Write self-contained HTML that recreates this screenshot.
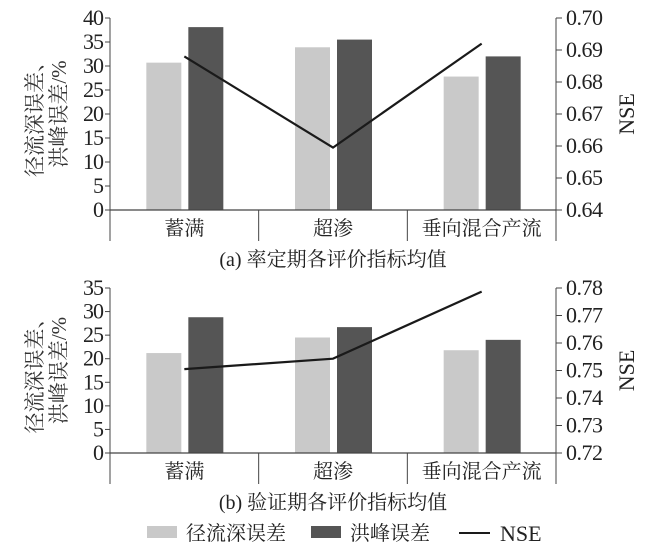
<!DOCTYPE html>
<html><head><meta charset="utf-8"><style>
body{margin:0;background:#fff}
svg{display:block;font-family:"Liberation Serif","Noto Serif CJK SC",serif;fill:#222}
</style></head><body>
<svg id="svg" width="670" height="559" viewBox="0 0 670 559"></svg>
<script>
const categories=["蓄满","超渗","垂向混合产流"];
const runoffA=[30.7,33.9,27.8];
const peakA=[38.1,35.5,32.0];
const nseA=[0.688,0.6595,0.692];
const leftTicksA=[0,5,10,15,20,25,30,35,40];
const rightTicksA=["0.64","0.65","0.66","0.67","0.68","0.69","0.70"];
const runoffB=[21.2,24.5,21.8];
const peakB=[28.8,26.7,24.0];
const nseB=[0.7505,0.7543,0.7787];
const leftTicksB=[0,5,10,15,20,25,30,35];
const rightTicksB=["0.72","0.73","0.74","0.75","0.76","0.77","0.78"];

const NS="http://www.w3.org/2000/svg";
const svg=document.getElementById('svg');
function mk(tag,attrs,parent){const e=document.createElementNS(NS,tag);for(const k in attrs)e.setAttribute(k,attrs[k]);(parent||svg).appendChild(e);return e;}

function panel(id,top,bottom,lmax,ltks,rtks,rmin,rmax,runoff,peak,nse,title){
  const g=mk('g',{});
  
  
  const L=110,R=556;
  const yL=v=>bottom-(v/lmax)*(bottom-top);
  const yR=v=>bottom-((v-rmin)/(rmax-rmin))*(bottom-top);
  const gw=(R-L)/categories.length;
  const cx=i=>L+gw*(i+0.5);
  const la=mk('line',{x1:L,y1:top,x2:L,y2:bottom,stroke:'#444','stroke-width':1},g);
  
  const ra=mk('line',{x1:R,y1:top,x2:R,y2:bottom,stroke:'#444','stroke-width':1},g);
  
  ltks.forEach(t=>{
    mk('line',{x1:L-5,y1:yL(t),x2:L,y2:yL(t),stroke:'#444'},g);
    const tx=mk('text',{x:L-7,y:yL(t)+7,'text-anchor':'end','font-size':22,'letter-spacing':-1},g);
    tx.textContent=t;
    
  });
  rtks.forEach(t=>{
    const v=parseFloat(t);
    mk('line',{x1:R,y1:yR(v),x2:R+6,y2:yR(v),stroke:'#444'},g);
    const tx=mk('text',{x:R+10,y:yR(v)+7,'font-size':22,'letter-spacing':-0.5},g);
    tx.textContent=t;
    
  });
  categories.forEach((c,i)=>{
    const b1=mk('rect',{x:cx(i)-38,y:yL(runoff[i]),width:35,height:bottom-yL(runoff[i]),fill:'#c9c9c9'},g);
    
    const b2=mk('rect',{x:cx(i)+4,y:yL(peak[i]),width:35,height:bottom-yL(peak[i]),fill:'#555'},g);
    
  });
  const xa=mk('line',{x1:L,y1:bottom,x2:R,y2:bottom,stroke:'#444','stroke-width':1.2},g);
  
  for(let i=0;i<=categories.length;i++){
    mk('line',{x1:L+gw*i,y1:bottom,x2:L+gw*i,y2:bottom+31,stroke:'#444'},g);
  }
  categories.forEach((c,i)=>{
    const tx=mk('text',{x:cx(i),y:bottom+25,'text-anchor':'middle','font-size':20},g);
    tx.textContent=c;
    
  });
  const pts=nse.map((v,i)=>cx(i)+','+yR(v)).join(' ');
  const pl=mk('polyline',{points:pts,fill:'none',stroke:'#1a1a1a','stroke-width':2.2},g);
  
  const yt=mk('text',{transform:`translate(42,${(top+bottom)/2}) rotate(-90)`,'text-anchor':'middle','font-size':21,fill:'#333'},g);
  yt.textContent='径流深误差、';
  
  const yt2=mk('text',{transform:`translate(66,${(top+bottom)/2}) rotate(-90)`,'text-anchor':'middle','font-size':21,fill:'#333'},g);
  yt2.textContent='洪峰误差/%';
  
  const rt=mk('text',{transform:`translate(634,${(top+bottom)/2}) rotate(-90)`,'text-anchor':'middle','font-size':22},g);
  rt.textContent='NSE';
  
  const ti=mk('text',{x:333,y:bottom+56,'text-anchor':'middle','font-size':20},g);
  ti.textContent=title;
  
}
panel('panel-a',18,210,40,leftTicksA,rightTicksA,0.64,0.70,runoffA,peakA,nseA,'(a) 率定期各评价指标均值');
panel('panel-b',288,453,35,leftTicksB,rightTicksB,0.72,0.78,runoffB,peakB,nseB,'(b) 验证期各评价指标均值');

const lg=mk('g',{});

mk('rect',{x:147,y:526,width:30,height:12,fill:'#c9c9c9'},lg);
const t1=mk('text',{x:186,y:540,'font-size':20},lg);t1.textContent='径流深误差';

mk('rect',{x:311,y:526,width:30,height:12,fill:'#555'},lg);
const t2=mk('text',{x:350,y:540,'font-size':20},lg);t2.textContent='洪峰误差';

mk('line',{x1:459,y1:533,x2:490,y2:533,stroke:'#1a1a1a','stroke-width':2},lg);
const t3=mk('text',{x:500,y:541,'font-size':22},lg);t3.textContent='NSE';

</script>
</body></html>
